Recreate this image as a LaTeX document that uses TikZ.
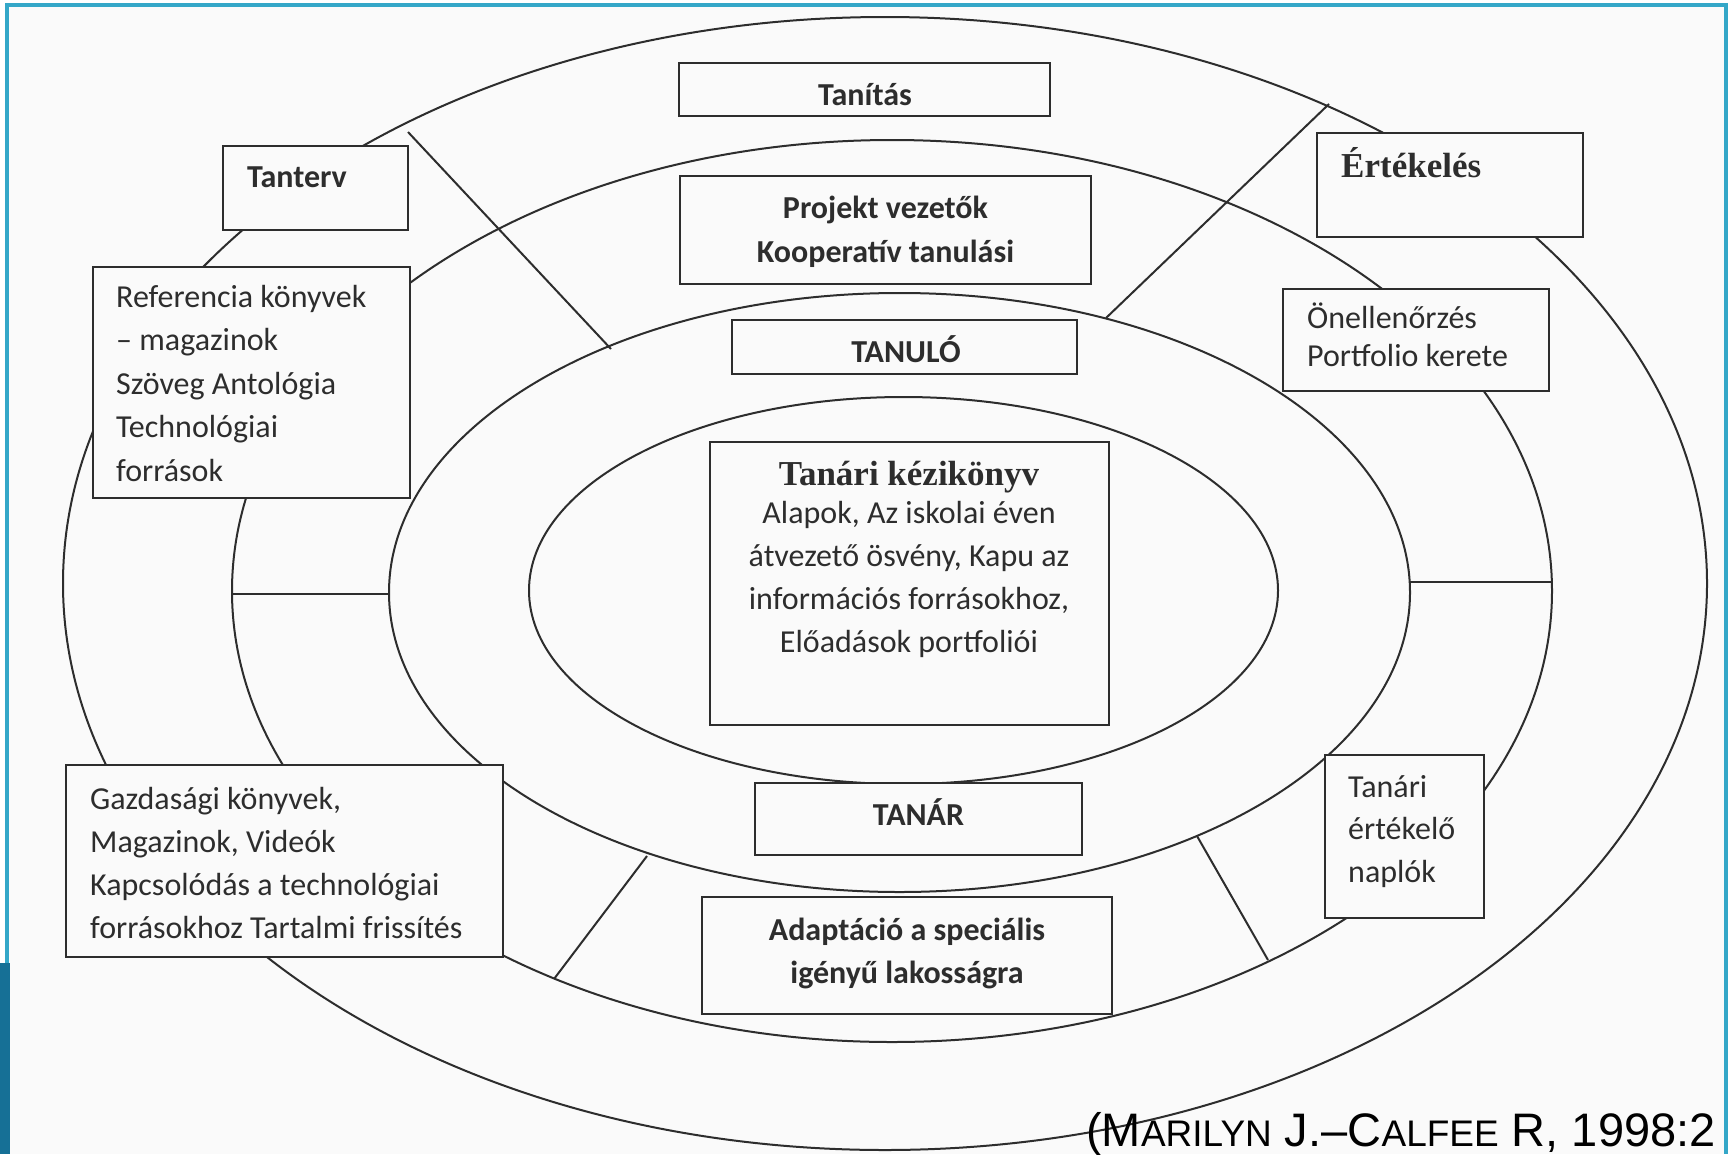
\documentclass[tikz,border=0pt]{standalone}
\usepackage{fontspec}
\setmainfont{Carlito}
\newfontfamily\timesf{Liberation Serif}
\newfontfamily\arialf{Liberation Sans}
\usetikzlibrary{shapes.geometric}
\definecolor{ink}{RGB}{45,45,45}
\definecolor{paper}{RGB}{250,250,250}
\definecolor{frameblue}{RGB}{52,167,200}
\definecolor{darkblue}{RGB}{22,112,150}
\begin{document}
\begin{tikzpicture}[x=1pt,y=-1pt,
  ring/.style={ellipse, draw=ink, line width=2pt, inner sep=0pt},
  spoke/.style={draw=ink, line width=2pt},
  box/.style={rectangle, draw=ink, line width=2.4pt, fill=paper, inner sep=0pt},
  txt/.style={text=ink, inner sep=0pt, font=\fontsize{32}{43.5}\selectfont},
  txtb/.style={text=ink, inner sep=0pt, font=\fontsize{32}{43.5}\selectfont\bfseries},
  serifb/.style={text=ink, inner sep=0pt, font=\timesf\fontsize{35}{40}\selectfont\bfseries},
]
\useasboundingbox (0,0) rectangle (1728,1154);
\fill[white] (0,0) rectangle (1728,1154);
\fill[paper] (6,5) rectangle (1726,1154);

% rings
\node[ring, minimum width=1644pt, minimum height=1133pt] (e1) at (885,583.5) {};
\node[ring, minimum width=1320pt, minimum height=902pt] (e2) at (892,591) {};
\node[ring, minimum width=1021pt, minimum height=599pt] (e3) at (899.5,592.5) {};
\node[ring, minimum width=749pt, minimum height=387pt] (e4) at (903.5,590.5) {};

% spokes
\coordinate (s1a) at (408,132);  \coordinate (s1b) at (611,349);
\coordinate (s2a) at (1329,104); \coordinate (s2b) at (1106,318);
\coordinate (s3a) at (232,594);  \coordinate (s3b) at (389,594);
\coordinate (s4a) at (1410,582); \coordinate (s4b) at (1553,582);
\coordinate (s5a) at (647,856);  \coordinate (s5b) at (554,979);
\coordinate (s6a) at (1197,836); \coordinate (s6b) at (1268,960);
\draw[spoke] (s1a) -- (s1b);
\draw[spoke] (s2a) -- (s2b);
\draw[spoke] (s3a) -- (s3b);
\draw[spoke] (s4a) -- (s4b);
\draw[spoke] (s5a) -- (s5b);
\draw[spoke] (s6a) -- (s6b);

% boxes
\node[box, minimum width=371pt, minimum height=53pt]  (tanitas)   at (864.5,89.5) {};
\node[box, minimum width=185pt, minimum height=84pt]  (tanterv)   at (315.5,188) {};
\node[box, minimum width=266pt, minimum height=104pt] (ertekeles) at (1450,185) {};
\node[box, minimum width=411pt, minimum height=108pt] (projekt)   at (885.5,230) {};
\node[box, minimum width=317pt, minimum height=231pt] (referencia) at (251.5,382.5) {};
\node[box, minimum width=266pt, minimum height=102pt] (onell)     at (1416,340) {};
\node[box, minimum width=345pt, minimum height=54pt]  (tanulo)    at (904.5,347) {};
\node[box, minimum width=399pt, minimum height=283pt] (kezikonyv) at (909.5,583.5) {};
\node[box, minimum width=437pt, minimum height=192pt] (gazdasagi) at (284.5,861) {};
\node[box, minimum width=327pt, minimum height=72pt]  (tanar)     at (918.5,819) {};
\node[box, minimum width=159pt, minimum height=163pt] (naplo)     at (1404.5,836.5) {};
\node[box, minimum width=410pt, minimum height=117pt] (adaptacio) at (907,955.5) {};

% texts
\node[txtb, anchor=base] (tanitasT) at (865,105) {Tanítás};
\node[txtb, anchor=base west] (tantervT) at (247,187) {Tanterv};
\node[serifb, anchor=base west] (ertekelesT) at (1341,177) {Értékelés};
\node[txtb, anchor=base] (projektT) at (885.5,218)
  {\parbox[t]{400pt}{\centering\fontsize{32}{44}\selectfont Projekt vezetők\\Kooperatív tanulási}};
\node[txt, anchor=base west] (referenciaT) at (116,307)
  {\parbox[t]{290pt}{\raggedright Referencia könyvek\\– magazinok\\Szöveg Antológia\\Technológiai\\források}};
\node[txt, anchor=base west] (onellT) at (1307,328)
  {\parbox[t]{240pt}{\raggedright\fontsize{32}{38.5}\selectfont Önellenőrzés\\Portfolio kerete}};
\node[txtb, anchor=base] (tanuloT) at (906,362) {TANULÓ};
\node[serifb, anchor=base] (kezikonyvT) at (909,485) {Tanári kézikönyv};
\node[txt, anchor=base] (kezikonyvB) at (909,523)
  {\parbox[t]{390pt}{\centering\fontsize{32}{43.3}\selectfont Alapok, Az iskolai éven\\átvezető ösvény, Kapu az\\információs forrásokhoz,\\Előadások portfoliói}};
\node[txt, anchor=base west] (gazdasagiT) at (90,809)
  {\parbox[t]{410pt}{\raggedright\fontsize{32}{43}\selectfont Gazdasági könyvek,\\Magazinok, Videók\\Kapcsolódás a technológiai\\forrásokhoz Tartalmi frissítés}};
\node[txtb, anchor=base] (tanarT) at (918.5,825) {TANÁR};
\node[txt, anchor=base west] (naploT) at (1348,797)
  {\parbox[t]{135pt}{\raggedright\fontsize{32}{42.5}\selectfont Tanári\\értékelő\\naplók}};
\node[txtb, anchor=base] (adaptacioT) at (907,940)
  {\parbox[t]{400pt}{\centering\fontsize{32}{43}\selectfont Adaptáció a speciális\\igényű lakosságra}};

% frame
\draw[frameblue, line width=4pt] (6.5,1154) -- (6.5,5) -- (1725.5,5) -- (1725.5,1154);
\fill[darkblue] (0,963) rectangle (10,1154);

% citation
\node[anchor=base west, inner sep=0pt, text=black, font=\arialf\fontsize{47}{47}\selectfont] (cite) at (1086,1146)
  {(M{\fontsize{37}{37}\selectfont ARILYN} J.–C{\fontsize{37}{37}\selectfont ALFEE} R, 1998:2};
\end{tikzpicture}
\end{document}
